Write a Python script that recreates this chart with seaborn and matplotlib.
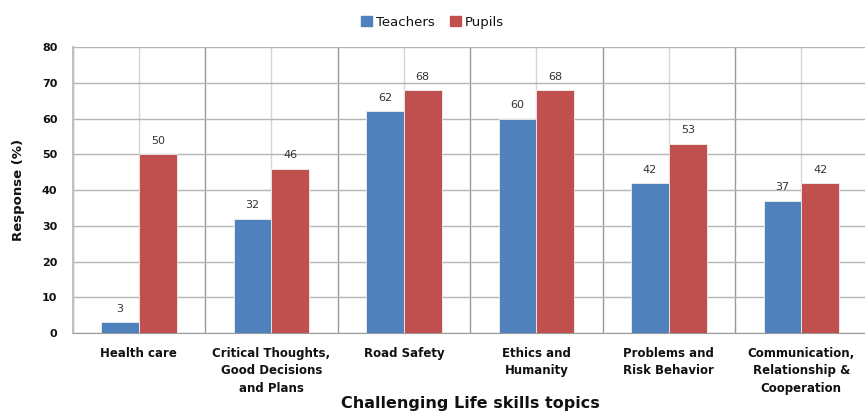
import matplotlib
matplotlib.use('Agg')
import matplotlib.pyplot as plt
import seaborn as sns
import pandas as pd
import numpy as np

topics = ['Health care', 'Critical Thoughts,\nGood Decisions\nand Plans', 'Road Safety',
          'Ethics and\nHumanity', 'Problems and\nRisk Behavior',
          'Communication,\nRelationship &\nCooperation']
teachers = [3, 32, 62, 60, 42, 37]
pupils = [50, 46, 68, 68, 53, 42]
groups = ['Teachers', 'Pupils']
colors = ['#4F81BD', '#C0504D']
y_ticks = [0, 10, 20, 30, 40, 50, 60, 70, 80]

df = pd.DataFrame({
    'Topic': topics * 2,
    'Group': ['Teachers'] * len(topics) + ['Pupils'] * len(topics),
    'Value': teachers + pupils,
})

sns.set_style('white')
plt.rcParams['font.family'] = ['DejaVu Sans']
plt.rcParams['text.color'] = '#111111'
plt.rcParams['xtick.color'] = '#111111'
plt.rcParams['ytick.color'] = '#111111'
plt.rcParams['axes.labelcolor'] = '#111111'

fig = plt.figure(figsize=(8.65, 4.16), dpi=100)
ax = fig.add_axes([0.084, 0.1995, 0.919, 0.6875])

sns.barplot(data=df, x='Topic', y='Value', hue='Group', order=topics, hue_order=groups,
            palette=colors, saturation=1, width=0.57, gap=0, ax=ax, legend=False,
            edgecolor='#f0f0f0', linewidth=0.6, zorder=3)

for cont in ax.containers:
    ax.bar_label(cont, padding=6, fontsize=8, color='#333333')

ax.set_ylim(0, 80)
ax.set_xlim(-0.5, len(topics) - 0.5)
ax.set_yticks(y_ticks)
ax.set_yticklabels([str(v) for v in y_ticks], fontsize=8, fontweight='bold')
ax.set_xticks(range(len(topics)))
ax.set_xticklabels(topics, fontsize=8.5, fontweight='bold', linespacing=1.45)
ax.set_xticks(np.arange(-0.5, len(topics), 1.0), minor=True)

ax.grid(axis='y', color='#b4b4b4', linewidth=1.0, zorder=0)
ax.grid(axis='x', which='major', color='#d6d6d6', linewidth=1.0, zorder=0)
ax.grid(axis='x', which='minor', color='#999999', linewidth=1.0, zorder=0)
ax.set_axisbelow(True)

ax.tick_params(axis='x', which='major', length=0, pad=10)
ax.tick_params(axis='x', which='minor', length=5, color='#999999', width=1)
ax.tick_params(axis='y', length=5, color='#b4b4b4', width=1, pad=6)

for s in ['top', 'right']:
    ax.spines[s].set_visible(False)
ax.spines['left'].set_color('#c0c0c0')
ax.spines['left'].set_linewidth(1.5)
ax.spines['bottom'].set_color('#999999')

ax.set_xlabel('Challenging Life skills topics', fontsize=11.5, fontweight='bold', labelpad=1)
ax.set_ylabel('Response (%)', fontsize=9.5, fontweight='bold', labelpad=12)

handles = [plt.Rectangle((0, 0), 1, 1, color=c) for c in colors]
fig.legend(handles, groups, loc='center', bbox_to_anchor=(0.5, 0.947), ncol=2, frameon=False,
           fontsize=9.5, handlelength=0.8, handleheight=0.8, handletextpad=0.3, columnspacing=1.2)

fig.savefig('out.png', dpi=100)
